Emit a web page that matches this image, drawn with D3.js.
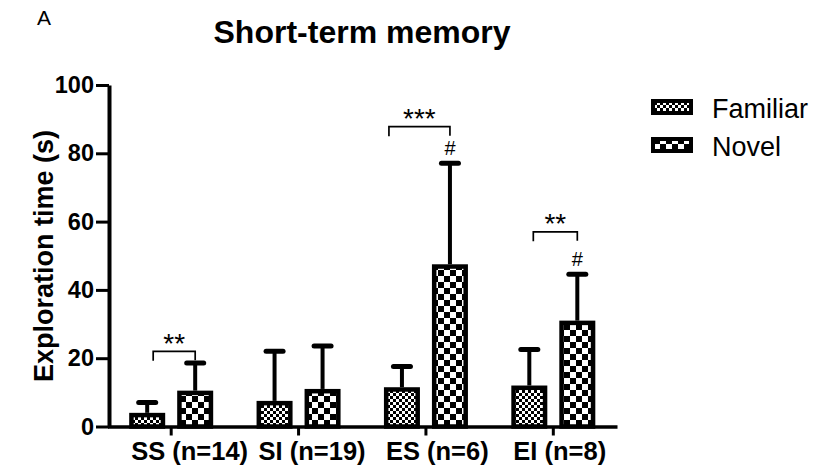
<!DOCTYPE html>
<html>
<head>
<meta charset="utf-8">
<script src="https://cdn.jsdelivr.net/npm/d3@7/dist/d3.min.js"></script>
<style>
  html, body { margin: 0; padding: 0; background: #fff; }
  svg { display: block; font-family: "Liberation Sans", Arial, sans-serif; }
</style>
</head>
<body>
<svg id="chart" width="821" height="472"></svg>
<script>
// Groups and their labels
const groups = ["SS", "SI", "ES", "EI"];
const groupLabels = ["SS (n=14)", "SI (n=19)", "ES (n=6)", "EI (n=8)"];
const series = ["Familiar", "Novel"];

// Mean exploration time (s) and SD per group
const familiarMean = [4, 7.5, 11.5, 12];
const familiarSD   = [3.5, 15, 6.5, 11];
const novelMean    = [10.5, 11, 47.5, 31];
const novelSD      = [8.5, 13, 30, 14];

const yTicks = [0, 20, 40, 60, 80, 100];

// Significance: familiar vs novel within a group (bracket) and vs control (#)
const sigGroups = ["SS", "ES", "EI"];
const sigStars  = ["**", "***", "**"];
const sigLevel  = [22, 87.8, 57];          // bracket height in data units
const hashGroups = ["ES", "EI"];

const svg = d3.select("#chart");

const x = d3.scaleBand().domain(groups).range([107.5, 617]).paddingInner(0).paddingOuter(0);
const xSub = d3.scaleBand().domain(series).range([-48, 48]).paddingInner(0.25).paddingOuter(0.125);
const y = d3.scaleLinear().domain([0, 100]).range([426.5, 85]);

const cx = g => x(g) + x.bandwidth() / 2;
const subCx = s => xSub(s) + xSub.bandwidth() / 2;

// Fill patterns: fine checker for familiar, coarse checker for novel
const defs = svg.append("defs");
function checker(id, size) {
  const p = defs.append("pattern").attr("id", id)
    .attr("patternUnits", "userSpaceOnUse")
    .attr("width", size * 2).attr("height", size * 2);
  p.append("rect").attr("width", size * 2).attr("height", size * 2).attr("fill", "#fff");
  p.append("rect").attr("x", 0).attr("y", 0).attr("width", size).attr("height", size).attr("fill", "#000");
  p.append("rect").attr("x", size).attr("y", size).attr("width", size).attr("height", size).attr("fill", "#000");
}
checker("patFamiliar", 3);
checker("patNovel", 6);
const fillFor = { Familiar: "url(#patFamiliar)", Novel: "url(#patNovel)" };

// Panel letter and title
svg.append("text").attr("x", 37).attr("y", 25)
  .attr("font-size", 21).attr("fill", "#000").text("A");
svg.append("text").attr("x", 362).attr("y", 43)
  .attr("text-anchor", "middle").attr("font-size", 32).attr("font-weight", "bold")
  .attr("fill", "#000").text("Short-term memory");

// Y axis label
svg.append("text")
  .attr("transform", "translate(53,256) rotate(-90)")
  .attr("text-anchor", "middle").attr("font-size", 27).attr("font-weight", "bold")
  .attr("fill", "#000").text("Exploration time (s)");

// Bar data rows
const rows = [];
groups.forEach((g, i) => {
  rows.push({ g, s: "Familiar", mean: familiarMean[i], sd: familiarSD[i] });
  rows.push({ g, s: "Novel", mean: novelMean[i], sd: novelSD[i] });
});

const barW = xSub.bandwidth();
const barStroke = 4.5;

// Error bars (upper only)
const err = svg.append("g").attr("class", "errors");
err.selectAll("line.v").data(rows).join("line").attr("class", "v")
  .attr("x1", d => cx(d.g) + subCx(d.s)).attr("x2", d => cx(d.g) + subCx(d.s))
  .attr("y1", d => y(d.mean)).attr("y2", d => y(d.mean + d.sd))
  .attr("stroke", "#000").attr("stroke-width", 4);
err.selectAll("line.cap").data(rows).join("line").attr("class", "cap")
  .attr("x1", d => cx(d.g) + subCx(d.s) - 8.5).attr("x2", d => cx(d.g) + subCx(d.s) + 8.5)
  .attr("y1", d => y(d.mean + d.sd) + 1.5).attr("y2", d => y(d.mean + d.sd) + 1.5)
  .attr("stroke", "#000").attr("stroke-width", 5).attr("stroke-linecap", "round");

// Bars
svg.append("g").attr("class", "bars").selectAll("rect").data(rows).join("rect")
  .attr("x", d => cx(d.g) + xSub(d.s) + barStroke / 2)
  .attr("width", barW - barStroke)
  .attr("y", d => y(d.mean) + barStroke / 2)
  .attr("height", d => y(0) - y(d.mean) - barStroke / 2)
  .attr("fill", d => fillFor[d.s])
  .attr("stroke", "#000").attr("stroke-width", barStroke);

// Y axis
const yAxis = svg.append("g").attr("transform", "translate(109,0)")
  .call(d3.axisLeft(y).tickValues(yTicks).tickSize(13).tickSizeOuter(0).tickPadding(2));
yAxis.select(".domain").attr("stroke-width", 4);
yAxis.selectAll(".tick line").attr("stroke-width", 3);
yAxis.selectAll(".tick text").attr("font-size", 23.5).attr("font-weight", "bold")
  .attr("font-family", "Liberation Sans, Arial, sans-serif").attr("fill", "#000");

// X axis
const xAxis = svg.append("g").attr("transform", `translate(0,${y(0)})`)
  .call(d3.axisBottom(x).tickSize(9).tickSizeOuter(0).tickPadding(0)
    .tickFormat((d, i) => groupLabels[i]));
xAxis.select(".domain").attr("stroke-width", 3.5);
xAxis.selectAll(".tick line").attr("stroke-width", 3);
xAxis.selectAll(".tick text")
  .attr("text-anchor", "start").attr("x", -40).attr("y", 0).attr("dy", 0)
  .attr("transform", "translate(0,33.5)")
  .attr("font-size", 25.5).attr("font-weight", "bold")
  .attr("font-family", "Liberation Sans, Arial, sans-serif").attr("fill", "#000");

// Significance brackets between familiar and novel
const bracketLeftOffset = { SS: 6, ES: -13, EI: 4 };
const sig = svg.append("g").attr("class", "sig");
sigGroups.forEach((g, i) => {
  const x0 = cx(g) + subCx("Familiar") + bracketLeftOffset[g];
  const x1 = cx(g) + subCx("Novel");
  const yb = y(sigLevel[i]);
  sig.append("path")
    .attr("d", `M${x0},${yb + 9.5}V${yb}H${x1}V${yb + 9}`)
    .attr("fill", "none").attr("stroke", "#000").attr("stroke-width", 1.7);
  sig.append("text").attr("x", (x0 + x1) / 2).attr("y", yb + 1.5)
    .attr("text-anchor", "middle").attr("font-size", 28).attr("fill", "#000")
    .text(sigStars[i]);
});
hashGroups.forEach(g => {
  const i = groups.indexOf(g);
  sig.append("text")
    .attr("x", cx(g) + subCx("Novel"))
    .attr("y", y(novelMean[i] + novelSD[i]) - 7)
    .attr("text-anchor", "middle").attr("font-size", 20).attr("fill", "#000")
    .text("#");
});

// Legend
const legend = svg.append("g").attr("class", "legend");
series.forEach((s, i) => {
  const ly = 101 + i * 38;
  legend.append("rect").attr("x", 653).attr("y", ly).attr("width", 38).attr("height", 12)
    .attr("fill", fillFor[s]).attr("stroke", "#000").attr("stroke-width", 4);
  legend.append("text").attr("x", 712).attr("y", ly + 17)
    .attr("font-size", 27).attr("fill", "#000").text(s);
});
</script>
</body>
</html>
